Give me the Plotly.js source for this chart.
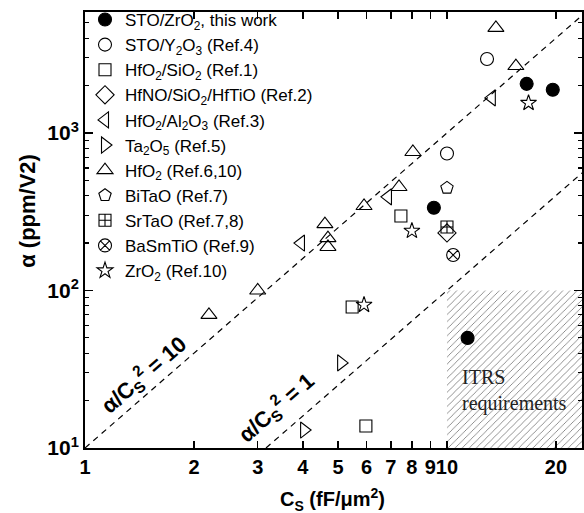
<!DOCTYPE html>
<html>
<head>
<meta charset="utf-8">
<script src="https://cdn.plot.ly/plotly-3.0.1.min.js"></script>
<style>html,body{margin:0;padding:0;background:#fff;}#chart{width:584px;height:513px;}</style>
</head>
<body>
<div id="chart"></div>
<script>
// ---- data ----
const stoZrO2X = [16.6, 19.6, 9.2, 11.4];
const stoZrO2Y = [2050, 1880, 335, 50];
const stoY2O3X = [12.9, 10.0];
const stoY2O3Y = [2950, 740];
const hfSiX = [7.46, 5.47, 5.97];
const hfSiY = [297, 78.5, 13.8];
const hfnoX = [10.0];
const hfnoY = [232];
const hfAlX = [13.3, 6.87, 3.95];
const hfAlY = [1670, 393, 200];
const ta2o5X = [5.1, 4.03];
const ta2o5Y = [34.7, 13.0];
const hfo2X = [13.65, 15.5, 8.05, 7.37, 5.9, 4.6, 4.69, 4.69, 3.0, 2.2];
const hfo2Y = [4650, 2660, 757, 454, 344, 264, 215, 189, 100, 70];
const bitaoX = [10.0];
const bitaoY = [448];
const srtaoX = [10.0];
const srtaoY = [253];
const basmX = [10.4];
const basmY = [168];
const zro2X = [16.8, 8.0, 5.9];
const zro2Y = [1550, 239, 81];

// reference lines alpha/Cs^2 = 10 and alpha/Cs^2 = 1
const line10X = [1, 25];
const line10Y = [10, 6250];
const line1X = [3.1623, 25];
const line1Y = [10, 625];

// ITRS requirement region (Cs >= 10, alpha <= 100)
const itrsX = [10, 30, 30, 10, 10];
const itrsY = [1, 1, 100, 100, 1];

const xTickVals = [1, 2, 3, 4, 5, 6, 7, 8, 9, 10, 20];
const xTickText = ['1', '2', '3', '4', '5', '6', '7', '8', '9', '10', '20'];
const yTickVals = [10, 100, 1000];
const yTickText = ['10<sup>1</sup>', '10<sup>2</sup>', '10<sup>3</sup>'];
const yMinorVals = [20, 30, 40, 50, 60, 70, 80, 90, 200, 300, 400, 500, 600, 700, 800, 900, 2000, 3000, 4000, 5000];

// ---- styling ----
const SANS = 'Liberation Sans, Arial, sans-serif';
const mk = (sym, size) => ({
  symbol: sym, size: size, color: '#000',
  line: {color: '#000', width: 1.1}
});
const pt = (name, x, y, sym, size) => ({
  type: 'scatter', mode: 'markers', name: name, x: x, y: y,
  marker: mk(sym, size), cliponaxis: false
});

const traces = [
  {type: 'scatter', mode: 'lines', x: itrsX, y: itrsY, fill: 'toself',
   fillcolor: 'rgba(0,0,0,0)',
   fillpattern: {shape: '/', fgcolor: '#777777', bgcolor: 'rgba(255,255,255,0)', size: 5, solidity: 0.16},
   line: {width: 0, color: 'rgba(0,0,0,0)'}, showlegend: false, hoverinfo: 'skip'},
  {type: 'scatter', mode: 'lines', x: line10X, y: line10Y, showlegend: false,
   line: {color: '#000', width: 1.2, dash: '6px,5px'}, hoverinfo: 'skip'},
  {type: 'scatter', mode: 'lines', x: line1X, y: line1Y, showlegend: false,
   line: {color: '#000', width: 1.2, dash: '6px,5px'}, hoverinfo: 'skip'},
  pt('STO/ZrO<sub>2</sub>, this work', stoZrO2X, stoZrO2Y, 'circle', 13),
  pt('STO/Y<sub>2</sub>O<sub>3</sub> (Ref.4)', stoY2O3X, stoY2O3Y, 'circle-open', 13),
  pt('HfO<sub>2</sub>/SiO<sub>2</sub> (Ref.1)', hfSiX, hfSiY, 'square-open', 12),
  pt('HfNO/SiO<sub>2</sub>/HfTiO (Ref.2)', hfnoX, hfnoY, 'diamond-open', 14),
  pt('HfO<sub>2</sub>/Al<sub>2</sub>O<sub>3</sub> (Ref.3)', hfAlX, hfAlY, 'triangle-left-open', 14),
  pt('Ta<sub>2</sub>O<sub>5</sub> (Ref.5)', ta2o5X, ta2o5Y, 'triangle-right-open', 14),
  pt('HfO<sub>2</sub> (Ref.6,10)', hfo2X, hfo2Y, 'triangle-up-open', 14),
  pt('BiTaO (Ref.7)', bitaoX, bitaoY, 'pentagon-open', 13),
  pt('SrTaO (Ref.7,8)', srtaoX, srtaoY, 'square-cross-open', 12),
  pt('BaSmTiO (Ref.9)', basmX, basmY, 'circle-x-open', 13),
  pt('ZrO<sub>2</sub> (Ref.10)', zro2X, zro2Y, 'star-open', 12)
];

const axisCommon = {
  type: 'log', showgrid: false, zeroline: false, showline: true,
  linecolor: '#000', linewidth: 2, mirror: 'ticks',
  ticks: 'inside', tickcolor: '#000', tickwidth: 1.5,
  tickmode: 'array', tickangle: 0
};

const layout = {
  width: 584, height: 513,
  margin: {l: 85, r: 2, t: 12, b: 65, pad: 0},
  paper_bgcolor: '#fff', plot_bgcolor: '#fff',
  showlegend: true,
  legend: {x: 0, y: 1.023, xanchor: 'left', yanchor: 'top', bgcolor: 'rgba(0,0,0,0)',
           maxheight: 480,
           font: {family: SANS, size: 17, color: '#000'}, tracegroupgap: 0, itemwidth: 30},
  xaxis: Object.assign({}, axisCommon, {
    range: [0, 1.373], tickvals: xTickVals, ticktext: xTickText, ticklen: 7,
    tickfont: {family: SANS, size: 20, color: '#000', weight: 'bold'}
  }),
  yaxis: Object.assign({}, axisCommon, {
    range: [1, 3.768], tickvals: yTickVals, ticktext: yTickText, ticklen: 8,
    tickfont: {family: SANS, size: 21, color: '#000', weight: 'bold'},
    minor: {tickmode: 'array', tickvals: yMinorVals, ticks: 'inside', ticklen: 4, tickwidth: 1.2, tickcolor: '#000'}
  }),
  annotations: [
    {xref: 'paper', yref: 'paper', x: 0.498, y: -0.118, xanchor: 'center', yanchor: 'middle', showarrow: false,
     text: 'C<sub>S</sub> (fF/μm<sup>2</sup>)', font: {family: SANS, size: 20, color: '#000', weight: 'bold'}},
    {xref: 'paper', yref: 'paper', x: -0.115, y: 0.5436, xanchor: 'center', yanchor: 'middle', showarrow: false,
     textangle: -90, text: 'α (ppm/V2)', font: {family: SANS, size: 22, color: '#000', weight: 'bold'}},
    {xref: 'x', yref: 'y', x: 0.163, y: 1.4635, showarrow: false, textangle: -41,
     text: 'α/C<sub>S</sub><sup>2</sup> = 10', font: {family: SANS, size: 22, color: '#000', weight: 'bold'}},
    {xref: 'x', yref: 'y', x: 0.5276, y: 1.26, showarrow: false, textangle: -41,
     text: 'α/C<sub>S</sub><sup>2</sup> = 1', font: {family: SANS, size: 22, color: '#000', weight: 'bold'}},
    {xref: 'x', yref: 'y', x: 1.036, y: 1.362, xanchor: 'left', yanchor: 'middle', align: 'left', showarrow: false,
     text: 'ITRS<br>requirements', font: {family: 'Liberation Serif, Times New Roman, serif', size: 20, color: '#222'}}
  ]
};

Plotly.newPlot('chart', traces, layout, {staticPlot: true, displayModeBar: false});
</script>
</body>
</html>
